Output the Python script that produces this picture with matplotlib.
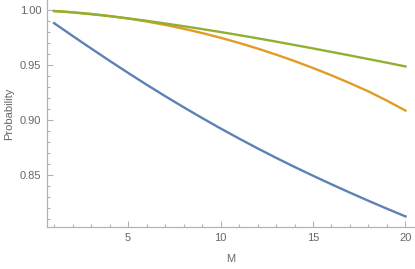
import matplotlib.pyplot as plt
from matplotlib.ticker import MultipleLocator

plt.rcParams['font.family'] = ['Liberation Sans', 'DejaVu Sans']

M = list(range(1, 21))
# values
blue = [0.9880, 0.9764, 0.9650, 0.9538, 0.9428, 0.9321, 0.9217, 0.9116, 0.9018, 0.8923,
        0.8831, 0.8742, 0.8656, 0.8573, 0.8493, 0.8415, 0.8339, 0.8265, 0.8193, 0.8123]
orange = [0.9990, 0.9979, 0.9964, 0.9945, 0.9922, 0.9895, 0.9864, 0.9829, 0.9790, 0.9747,
          0.9700, 0.9649, 0.9594, 0.9535, 0.9472, 0.9405, 0.9334, 0.9259, 0.9175, 0.9085]
green = [0.9990, 0.9977, 0.9961, 0.9943, 0.9923, 0.9901, 0.9877, 0.9852, 0.9826, 0.9799,
         0.9771, 0.9742, 0.9712, 0.9681, 0.9650, 0.9618, 0.9586, 0.9553, 0.9520, 0.9486]

fig = plt.figure(figsize=(4.15, 2.69), dpi=100)
ax = fig.add_axes([47/415, 42/269, 367/415, 227/269])

ax.plot(M, blue, color='#5E81B5', lw=1.7)
ax.plot(M, orange, color='#E19C24', lw=1.7)
ax.plot(M, green, color='#8FB032', lw=1.7)

ax.set_xlim(0.62, 20.46)
ax.set_ylim(0.8027, 1.009)

ax.xaxis.set_major_locator(MultipleLocator(5))
ax.xaxis.set_minor_locator(MultipleLocator(1))
ax.yaxis.set_major_locator(MultipleLocator(0.05))
ax.yaxis.set_minor_locator(MultipleLocator(0.01))
ax.yaxis.set_major_formatter(lambda v, p: f'{v:.2f}')

for s in ['top', 'right']:
    ax.spines[s].set_visible(False)
for s in ['left', 'bottom']:
    ax.spines[s].set_color('#b3b3b3')
    ax.spines[s].set_linewidth(0.9)

ax.tick_params(which='both', direction='in', color='#b3b3b3', labelcolor='#666666',
               labelsize=8, width=0.8)
ax.tick_params(which='major', length=4, pad=4)
ax.tick_params(which='minor', length=2.5)

ax.set_xlabel('M', color='#666666', fontsize=8, labelpad=8)
ax.set_ylabel('Probability', color='#666666', fontsize=8, labelpad=4)

plt.savefig('out.png', dpi=100)
